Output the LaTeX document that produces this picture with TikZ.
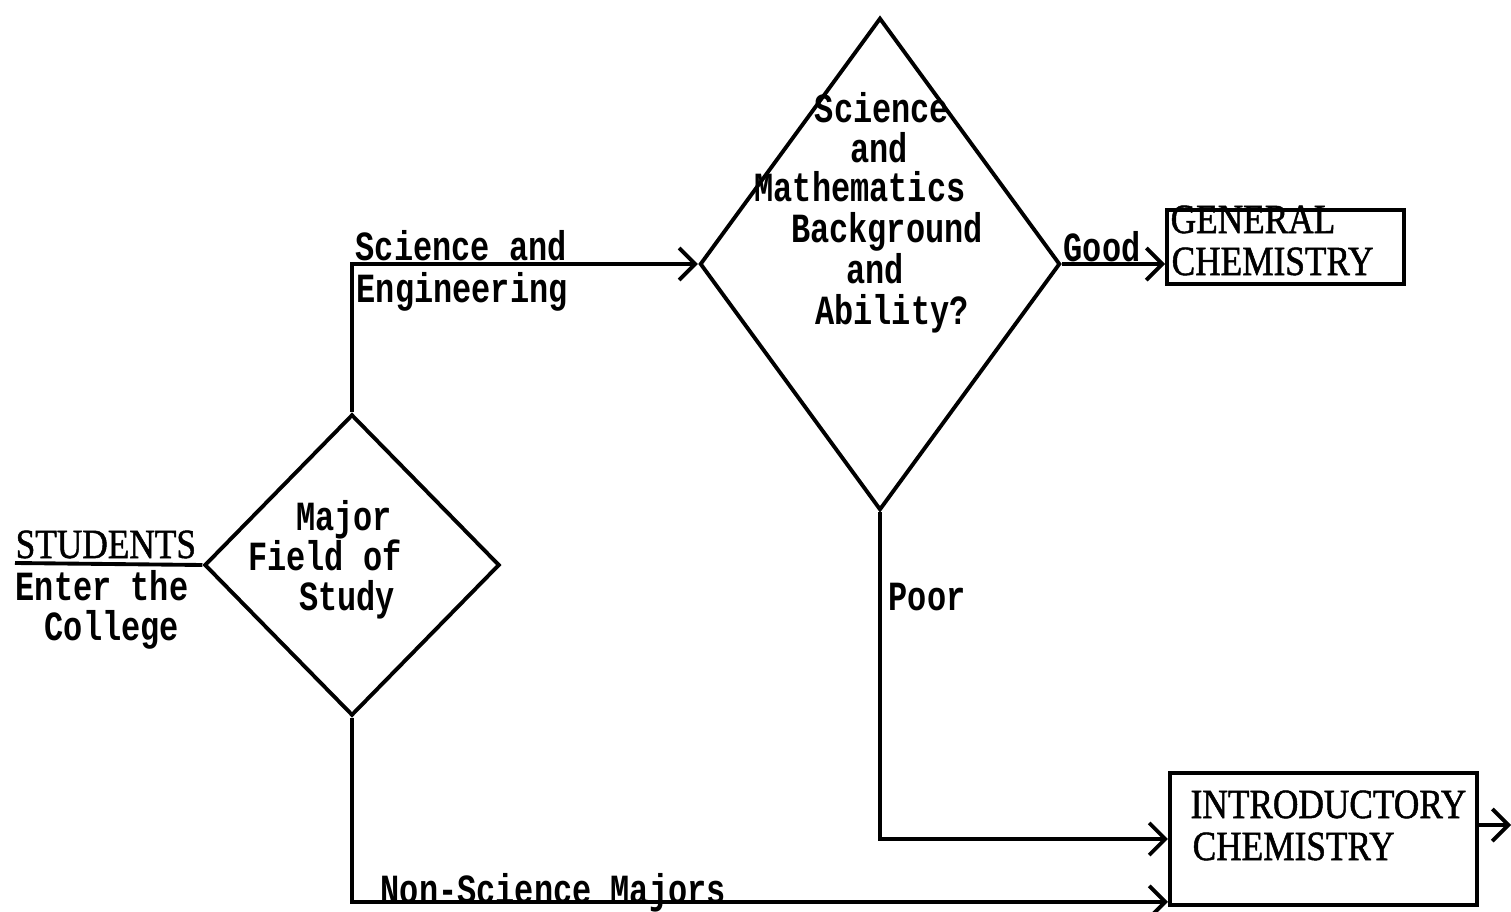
\documentclass[tikz,border=0pt]{standalone}
\usepackage{fontspec}
\usetikzlibrary{shapes.geometric,arrows.meta}
\newfontfamily\typew[FakeStretch=0.77]{Liberation Mono}
\newfontfamily\capsf[FakeStretch=0.85,FakeBold=1.2]{Liberation Serif}
\tikzset{
  x=0.01cm, y=-0.01cm,
  conn/.style={line width=1.1pt, -{Straight Barb[length=1.6mm,width=3.2mm,line width=1.1pt]}},
  plain/.style={line width=1.1pt},
  decision/.style={diamond, draw, line width=1.1pt, inner sep=0pt},
  boxnode/.style={rectangle, draw, line width=1.1pt, inner sep=0pt},
  tw/.style={inner sep=0pt, anchor=base, font=\typew\bfseries\fontsize{11.8}{11.5}\selectfont},
  twl/.style={tw, anchor=base west},
  captext/.style={inner sep=0pt, anchor=base west, font=\capsf\fontsize{11.8}{11.5}\selectfont},
}
\begin{document}
\begin{tikzpicture}
\useasboundingbox (0,0) rectangle (1511,912);
% decisions
\node[decision, minimum width=2.95cm, minimum height=3.01cm] (d1) at (352,565) {};
\node[decision, minimum width=3.6cm, minimum height=4.92cm] (d2) at (880,264) {};
% boxes
\node[boxnode, minimum width=2.37cm, minimum height=0.74cm] (gen) at (1285.5,247) {};
\node[boxnode, minimum width=3.07cm, minimum height=1.32cm] (intro) at (1323.5,839) {};
% texts in diamond 1
\node[tw] (t1a) at (344,530) {Major};
\node[tw] (t1b) at (325,570) {Field of};
\node[tw] (t1c) at (347,610) {Study};
% texts in diamond 2
\node[tw] (t2a) at (882,122) {Science};
\node[tw] (t2b) at (879,162) {and};
\node[tw] (t2c) at (860,202) {Mathematics};
\node[tw] (t2d) at (887,242) {Background};
\node[tw] (t2e) at (875,283) {and};
\node[tw] (t2f) at (892,324) {Ability?};
% box texts
\node[captext] (g1) at (1170,233) {GENERAL};
\node[captext] (g2) at (1171,275) {CHEMISTRY};
\node[captext] (i1) at (1190,818) {INTRODUCTORY};
\node[captext] (i2) at (1192,860) {CHEMISTRY};
% students
\node[captext] (st) at (15,558) {STUDENTS};
\node[twl] (st2) at (15,600) {Enter the};
\node[twl] (st3) at (44,640) {College};
\coordinate (stl) at (15,563);
\draw[plain] (stl) -- (d1.west);
% connectors
\draw[conn] (d1.north) |- (d2.west);
\node[twl] (l1) at (355,260) {Science and};
\node[twl] (l2) at (356,302) {Engineering};
\draw[conn] (d2.east) -- (d2.east -| gen.west);
\node[twl] (l3) at (1063,261) {Good};
\draw[conn] (d2.south) |- (intro.west);
\node[twl] (l4) at (888,610) {Poor};
\draw[conn] (d1.south) |- ([yshift=0.05cm]intro.south west);
\node[twl] (l5) at (380,903) {Non-Science Majors};
\coordinate (out) at (1511,825);
\draw[conn] (intro.east |- out) -- (out);
\end{tikzpicture}
\end{document}
